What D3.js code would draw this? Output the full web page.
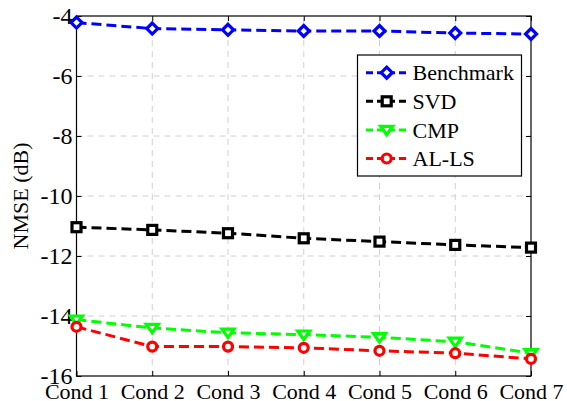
<!DOCTYPE html>
<html>
<head>
<meta charset="utf-8">
<script src="https://cdn.jsdelivr.net/npm/d3@7"></script>
<style>
  html, body { margin: 0; padding: 0; background: #fff; }
  svg { display: block; }
  svg text { font-family: "Liberation Serif", Tinos, "Times New Roman", Times, "DejaVu Serif", serif !important; fill: #000; }
</style>
</head>
<body>
<svg id="chart" width="567" height="401"></svg>
<script>
// Test conditions along the x axis
const conditions = ["Cond 1", "Cond 2", "Cond 3", "Cond 4", "Cond 5", "Cond 6", "Cond 7"];

// NMSE (dB) per method
const benchmark = [-4.22, -4.42, -4.46, -4.50, -4.50, -4.57, -4.60];
const svd       = [-11.04, -11.13, -11.24, -11.41, -11.52, -11.63, -11.72];
const cmp       = [-14.12, -14.40, -14.56, -14.62, -14.71, -14.86, -15.24];
const alls      = [-14.36, -15.02, -15.02, -15.06, -15.16, -15.24, -15.43];

const yTicks = [-4, -6, -8, -10, -12, -14, -16];

const series = [
  { name: "Benchmark", values: benchmark, color: "#0000ff", marker: "diamond" },
  { name: "SVD",       values: svd,       color: "#000000", marker: "square" },
  { name: "CMP",       values: cmp,       color: "#00ff00", marker: "triangle" },
  { name: "AL-LS",     values: alls,      color: "#ff0000", marker: "circle" }
];

const svg = d3.select("#chart");
const margin = { left: 76.5, right: 36, top: 16, bottom: 25 };
const W = 567, H = 401;

const x = d3.scalePoint().domain(conditions).range([margin.left, W - margin.right]);
const y = d3.scaleLinear().domain([-16, -4]).range([H - margin.bottom, margin.top]);

const x0 = margin.left, x1 = W - margin.right, y0 = H - margin.bottom, y1 = margin.top;

// Dashed grid
const grid = svg.append("g");
grid.selectAll("line.gx").data(conditions.slice(1, -1)).join("line")
  .attr("x1", d => x(d)).attr("x2", d => x(d)).attr("y1", y0).attr("y2", y1)
  .attr("stroke", "#d0d0d0").attr("stroke-width", 1).attr("stroke-dasharray", "6,5");
grid.selectAll("line.gy").data(yTicks.slice(1, -1)).join("line")
  .attr("x1", x0).attr("x2", x1).attr("y1", d => y(d)).attr("y2", d => y(d))
  .attr("stroke", "#d0d0d0").attr("stroke-width", 1).attr("stroke-dasharray", "6,5");

// Axes with inward ticks on all sides
const tickLen = 5;
const fs = 22;
const xAxis = d3.axisBottom(x).tickSizeInner(-tickLen).tickSizeOuter(0).tickPadding(tickLen + 3);
const yAxis = d3.axisLeft(y).tickValues(yTicks).tickFormat(d3.format("d")).tickSizeInner(-tickLen).tickSizeOuter(0).tickPadding(tickLen + 4);

const gx = svg.append("g").attr("transform", `translate(0,${y0})`).call(xAxis);
gx.attr("font-family", null);
gx.select(".domain").remove();
gx.selectAll("text").attr("font-size", fs).attr("dy", null).attr("y", 23);
gx.selectAll("line").attr("stroke", "#000");

const gy = svg.append("g").attr("transform", `translate(${x0},0)`).call(yAxis);
gy.attr("font-family", null);
gy.select(".domain").remove();
gy.selectAll("text").attr("font-size", 24).attr("x", -4)
  .text(d => d < 0 ? "-" + Math.abs(d) : d);
gy.selectAll("line").attr("stroke", "#000");

// Top and right mirrored ticks
const gt = svg.append("g").attr("transform", `translate(0,${y1})`).call(d3.axisTop(x).tickSizeInner(-tickLen).tickSizeOuter(0).tickFormat(""));
gt.select(".domain").remove();
gt.selectAll("line").attr("stroke", "#000");
const gr = svg.append("g").attr("transform", `translate(${x1},0)`).call(d3.axisRight(y).tickValues(yTicks).tickSizeInner(-tickLen).tickSizeOuter(0).tickFormat(""));
gr.select(".domain").remove();
gr.selectAll("line").attr("stroke", "#000");

// Plot box
svg.append("rect").attr("x", x0).attr("y", y1).attr("width", x1 - x0).attr("height", y0 - y1)
  .attr("fill", "none").attr("stroke", "#000").attr("stroke-width", 1.2);

// Y label
svg.append("text")
  .attr("transform", `translate(28,${(y0 + y1) / 2}) rotate(-90)`)
  .attr("text-anchor", "middle").attr("font-size", fs).text("NMSE (dB)");

// Marker drawing
function drawMarker(g, type, cx, cy, color) {
  const sw = 3.2;
  if (type === "diamond") {
    const r = 5.5;
    g.append("path").attr("d", `M${cx},${cy - r}L${cx + r},${cy}L${cx},${cy + r}L${cx - r},${cy}Z`)
      .attr("fill", "#fff").attr("stroke", color).attr("stroke-width", sw);
  } else if (type === "square") {
    const r = 4.5;
    g.append("rect").attr("x", cx - r).attr("y", cy - r).attr("width", 2 * r).attr("height", 2 * r)
      .attr("fill", "#fff").attr("stroke", color).attr("stroke-width", sw);
  } else if (type === "triangle") {
    const r = 6;
    g.append("path").attr("d", `M${cx - r},${cy - r * 0.6}L${cx + r},${cy - r * 0.6}L${cx},${cy + r * 0.8}Z`)
      .attr("fill", "#fff").attr("stroke", color).attr("stroke-width", sw);
  } else {
    g.append("circle").attr("cx", cx).attr("cy", cy).attr("r", 4.5)
      .attr("fill", "#fff").attr("stroke", color).attr("stroke-width", sw);
  }
}

const line = d3.line().x((d, i) => x(conditions[i])).y(d => y(d));
const plot = svg.append("g");
series.forEach(s => {
  plot.append("path").datum(s.values).attr("d", line)
    .attr("fill", "none").attr("stroke", s.color).attr("stroke-width", 3)
    .attr("stroke-dasharray", "10,5");
  const mg = plot.append("g");
  s.values.forEach((v, i) => drawMarker(mg, s.marker, x(conditions[i]), y(v), s.color));
});

// Legend
const lg = svg.append("g");
const lx = 357.5, ly = 55, lw = 164, lh = 121;
lg.append("rect").attr("x", lx).attr("y", ly).attr("width", lw).attr("height", lh)
  .attr("fill", "#fff").attr("stroke", "#000").attr("stroke-width", 1.2);
series.forEach((s, i) => {
  const cy = 72.7 + i * 28.6;
  lg.append("line").attr("x1", 366).attr("x2", 407).attr("y1", cy).attr("y2", cy)
    .attr("stroke", s.color).attr("stroke-width", 3).attr("stroke-dasharray", "7,4");
  drawMarker(lg, s.marker, 386.7, cy, s.color);
  lg.append("text").attr("x", 412.5).attr("y", cy).attr("dy", "0.35em")
    .attr("font-size", fs).text(s.name);
});
</script>
</body>
</html>
